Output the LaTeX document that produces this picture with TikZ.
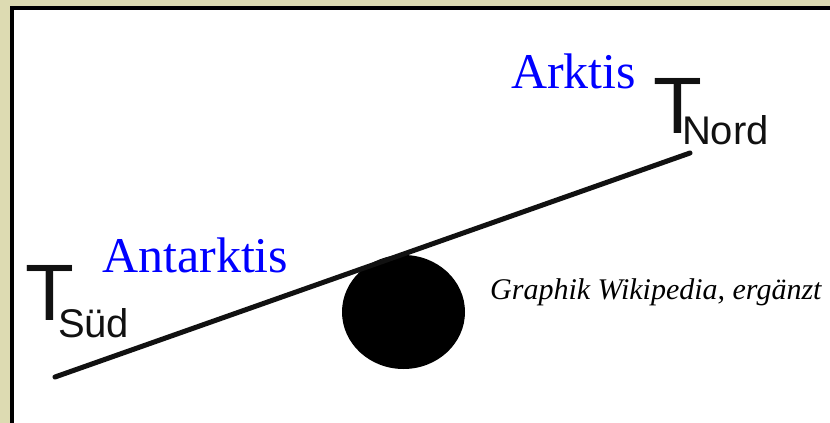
\documentclass[tikz,border=0pt]{standalone}
\usepackage{fontspec}
\setmainfont{Liberation Serif}
\newfontfamily\arialfont{Liberation Sans}
\usepackage{xcolor}
\usetikzlibrary{positioning, shapes.geometric, calc}
\definecolor{colFrame}{HTML}{DDDBB2}
\definecolor{colBlue}{HTML}{0000FF}
\definecolor{colInk}{HTML}{111111}
\tikzset{
  % Temperature symbols (sans serif)
  tbig/.style={inner sep=0pt, anchor=base west, text=colInk,
    font=\arialfont\fontsize{80}{80}\selectfont},
  % Region labels
  region/.style={inner sep=0pt, anchor=base west, text=colBlue,
    font=\fontsize{50}{50}\selectfont},
  credit/.style={inner sep=0pt, anchor=base west, text=black,
    font=\itshape\fontsize{30}{30}\selectfont},
  % Seesaw
  beam/.style={line width=5pt, line cap=round, colInk},
  fulcrum/.style={ellipse, fill=black, inner sep=0pt,
    minimum width=123pt, minimum height=114pt},
}
\begin{document}
\begin{tikzpicture}[x=1pt, y=-1pt]

%% frame
\useasboundingbox (0,0) rectangle (830,423);
\fill[colFrame] (0,0) rectangle (830,423);
\fill[black] (10,6) rectangle (830,423);
\fill[white] (14,10) rectangle (830,423);

%% seesaw
\node[fulcrum] (ball) at (403.5,312) {};
\coordinate (endS) at (55,377);
\coordinate (endN) at (690,153);
\draw[beam] (endS) -- (endN);

%% temperatures
\node[tbig] (tsued) at (25,320)
  {T\kern-16pt\raisebox{-17pt}{\fontsize{40}{40}\selectfont Süd}};
\node[tbig] (tnord) at (653,133)
  {T\kern-20pt\raisebox{-11pt}{\fontsize{40}{40}\selectfont Nord}};

%% labels
\node[region] (antarktis) at (102,272) {Antarktis};
\node[region] (arktis) at (511,88) {Arktis};
\node[credit] (quelle) at (490,299) {Graphik Wikipedia, ergänzt};

\end{tikzpicture}
\end{document}
